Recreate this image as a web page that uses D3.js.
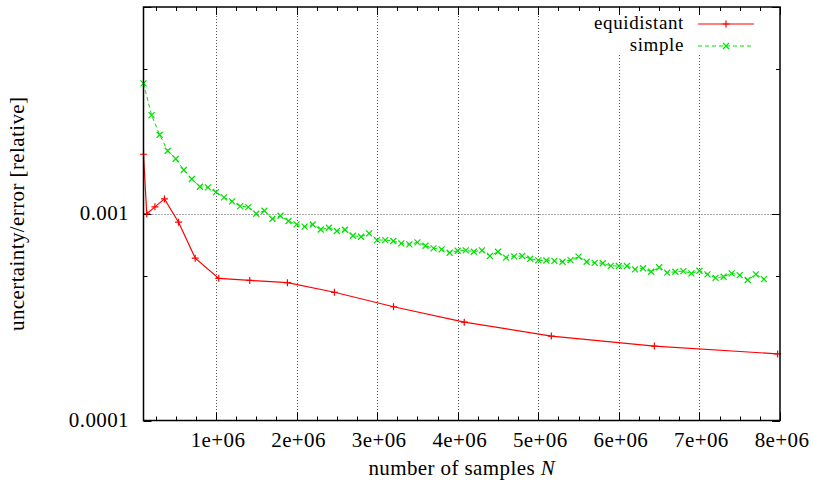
<!DOCTYPE html>
<html>
<head>
<meta charset="utf-8">
<script src="https://cdn.jsdelivr.net/npm/d3@7"></script>
<style>
  html, body { margin: 0; padding: 0; background: #fff; }
  svg { display: block; }
  text { font-family: "Liberation Serif", "Liberation Sans", sans-serif; font-size: 21px; letter-spacing: 0.4px; fill: #000; }
  text.key-label { font-size: 19px; letter-spacing: 0.6px; }
</style>
</head>
<body>
<svg id="chart" width="813" height="482"></svg>
<script>
// Sample counts and relative errors for the two sampling strategies
const equidistantN = [100000, 140000, 242000, 360000, 535000, 742000, 1034000, 1419000,
  1886000, 2470000, 3203000, 4081000, 5162000, 6441000, 7970000];
const equidistantErr = [0.00194, 0.00100, 0.00108, 0.00118, 0.000910, 0.000610, 0.000487, 0.000476,
  0.000464, 0.000417, 0.000355, 0.000299, 0.000256, 0.000229, 0.000210];

const simpleN = [100000, 200000, 300000, 400000, 500000, 600000, 700000, 800000, 900000, 1000000,
  1100000, 1200000, 1300000, 1400000, 1500000, 1600000, 1700000, 1800000, 1900000, 2000000,
  2100000, 2200000, 2300000, 2400000, 2500000, 2600000, 2700000, 2800000, 2900000, 3000000,
  3100000, 3200000, 3300000, 3400000, 3500000, 3600000, 3700000, 3800000, 3900000, 4000000,
  4100000, 4200000, 4300000, 4400000, 4500000, 4600000, 4700000, 4800000, 4900000, 5000000,
  5100000, 5200000, 5300000, 5400000, 5500000, 5600000, 5700000, 5800000, 5900000, 6000000,
  6100000, 6200000, 6300000, 6400000, 6500000, 6600000, 6700000, 6800000, 6900000, 7000000,
  7100000, 7200000, 7300000, 7400000, 7500000, 7600000, 7700000, 7800000];
const simpleErr = [0.004272, 0.003001, 0.002410, 0.002017, 0.001845, 0.001627, 0.001472, 0.001351, 0.001342, 0.001273,
  0.001200, 0.001148, 0.001089, 0.001077, 0.001000, 0.001034, 0.000946, 0.000978, 0.000922, 0.000889,
  0.000867, 0.000887, 0.000839, 0.000856, 0.000825, 0.000837, 0.000783, 0.000774, 0.000804, 0.000746,
  0.000746, 0.000738, 0.000719, 0.000711, 0.000727, 0.000700, 0.000680, 0.000673, 0.000648, 0.000662,
  0.000665, 0.000655, 0.000665, 0.000625, 0.000655, 0.000613, 0.000622, 0.000625, 0.000606, 0.000595,
  0.000594, 0.000592, 0.000586, 0.000597, 0.000620, 0.000586, 0.000579, 0.000576, 0.000560, 0.000559,
  0.000559, 0.000538, 0.000545, 0.000524, 0.000551, 0.000519, 0.000524, 0.000528, 0.000515, 0.000530,
  0.000509, 0.000490, 0.000496, 0.000515, 0.000505, 0.000478, 0.000509, 0.000483];

const xTickValues = [1e6, 2e6, 3e6, 4e6, 5e6, 6e6, 7e6, 8e6];
const xTickLabels = ["1e+06", "2e+06", "3e+06", "4e+06", "5e+06", "6e+06", "7e+06", "8e+06"];
const xMinorValues = [250000, 500000, 750000, 1250000, 1500000, 1750000, 2250000, 2500000, 2750000,
  3250000, 3500000, 3750000, 4250000, 4500000, 4750000, 5250000, 5500000, 5750000,
  6250000, 6500000, 6750000, 7250000, 7500000, 7750000];
const yTickValues = [0.0001, 0.001, 0.01];
const yTickLabels = ["0.0001", "0.001", ""];
const yMinorValues = [0.0005, 0.005];

const seriesNames = ["equidistant", "simple"];
const seriesColors = ["#ff0000", "#00e000"];

const svg = d3.select("#chart");
const plotLeft = 143.5, plotRight = 780, plotTop = 7, plotBottom = 420.5;

const x = d3.scaleLinear().domain([100000, 8000000]).range([plotLeft, plotRight]);
const y = d3.scaleLog().domain([0.0001, 0.01]).range([plotBottom, plotTop]);

// grid at major ticks inside the plot
const grid = svg.append("g").attr("stroke", "#555").attr("stroke-width", 1).attr("stroke-dasharray", "1,2");
xTickValues.filter(v => x(v) < plotRight - 1).forEach(v => {
  grid.append("line").attr("x1", Math.round(x(v)) + 0.5).attr("x2", Math.round(x(v)) + 0.5)
    .attr("y1", plotTop).attr("y2", plotBottom);
});
yTickValues.filter(v => y(v) > plotTop + 1 && y(v) < plotBottom - 1).forEach(v => {
  grid.append("line").attr("x1", plotLeft).attr("x2", plotRight)
    .attr("y1", Math.round(y(v)) + 0.5).attr("y2", Math.round(y(v)) + 0.5);
});

// opaque key background
svg.append("rect").attr("x", 578).attr("y", plotTop + 1).attr("width", 190).attr("height", 45).attr("fill", "#fff");

// tick marks on all four sides
const ticks = svg.append("g").attr("stroke", "#000").attr("stroke-width", 1);
xTickValues.forEach(v => {
  const px = Math.round(x(v)) + 0.5;
  ticks.append("line").attr("x1", px).attr("x2", px).attr("y1", plotBottom).attr("y2", plotBottom - 8);
  ticks.append("line").attr("x1", px).attr("x2", px).attr("y1", plotTop).attr("y2", plotTop + 8);
});
xMinorValues.forEach(v => {
  const px = Math.round(x(v)) + 0.5;
  ticks.append("line").attr("x1", px).attr("x2", px).attr("y1", plotBottom).attr("y2", plotBottom - 4);
  ticks.append("line").attr("x1", px).attr("x2", px).attr("y1", plotTop).attr("y2", plotTop + 4);
});
yTickValues.forEach(v => {
  const py = Math.round(y(v)) + 0.5;
  ticks.append("line").attr("x1", plotLeft).attr("x2", plotLeft + 8).attr("y1", py).attr("y2", py);
  ticks.append("line").attr("x1", plotRight).attr("x2", plotRight - 8).attr("y1", py).attr("y2", py);
});
yMinorValues.forEach(v => {
  const py = Math.round(y(v)) + 0.5;
  ticks.append("line").attr("x1", plotLeft).attr("x2", plotLeft + 4).attr("y1", py).attr("y2", py);
  ticks.append("line").attr("x1", plotRight).attr("x2", plotRight - 4).attr("y1", py).attr("y2", py);
});

// tick labels
xTickValues.forEach((v, i) => {
  svg.append("text").attr("x", x(v) + 2).attr("y", 447).attr("text-anchor", "middle").text(xTickLabels[i]);
});
yTickValues.forEach((v, i) => {
  if (!yTickLabels[i]) return;
  svg.append("text").attr("x", 129).attr("y", y(v) + 6).attr("text-anchor", "end").text(yTickLabels[i]);
});

// axis titles
const xTitle = svg.append("text").attr("x", (plotLeft + plotRight) / 2).attr("y", 475).attr("text-anchor", "middle");
xTitle.append("tspan").text("number of samples ");
xTitle.append("tspan").attr("font-style", "italic").text("N");
svg.append("text").attr("transform", `translate(24,${(plotTop + plotBottom) / 2}) rotate(-90)`)
  .attr("text-anchor", "middle").text("uncertainty/error [relative]");

// data lines
const line = d3.line().x(d => x(d[0])).y(d => y(d[1]));
const eqData = equidistantN.map((n, i) => [n, equidistantErr[i]]);
const simData = simpleN.map((n, i) => [n, simpleErr[i]]);

svg.append("path").datum(simData).attr("d", line).attr("fill", "none")
  .attr("stroke", seriesColors[1]).attr("stroke-width", 1).attr("stroke-dasharray", "4,3");
svg.append("path").datum(eqData).attr("d", line).attr("fill", "none")
  .attr("stroke", seriesColors[0]).attr("stroke-width", 1.2);

function plusMark(g, cx, cy, color) {
  g.append("path").attr("d", `M${cx - 3.5},${cy}H${cx + 3.5}M${cx},${cy - 3.5}V${cy + 3.5}`)
    .attr("stroke", color).attr("stroke-width", 1.2).attr("fill", "none");
}
function crossMark(g, cx, cy, color) {
  g.append("path").attr("d", `M${cx - 3},${cy - 3}L${cx + 3},${cy + 3}M${cx - 3},${cy + 3}L${cx + 3},${cy - 3}`)
    .attr("stroke", color).attr("stroke-width", 1.2).attr("fill", "none");
}
const marks = svg.append("g");
simData.forEach(d => crossMark(marks, x(d[0]), y(d[1]), seriesColors[1]));
eqData.forEach(d => plusMark(marks, x(d[0]), y(d[1]), seriesColors[0]));

// border
svg.append("rect").attr("x", plotLeft).attr("y", plotTop).attr("width", plotRight - plotLeft).attr("height", plotBottom - plotTop)
  .attr("fill", "none").attr("stroke", "#000").attr("stroke-width", 1.5);

// key
const key = svg.append("g");
const keyRows = [24, 46];
seriesNames.forEach((name, i) => {
  const ky = keyRows[i];
  key.append("text").attr("class", "key-label").attr("x", 684).attr("y", ky + 5)
    .attr("text-anchor", "end").text(name);
  key.append("line").attr("x1", 698).attr("x2", 754).attr("y1", ky).attr("y2", ky)
    .attr("stroke", seriesColors[i]).attr("stroke-width", i === 0 ? 1.2 : 1)
    .attr("stroke-dasharray", i === 0 ? null : "4,3");
  if (i === 0) plusMark(key, 726, ky, seriesColors[i]); else crossMark(key, 726, ky, seriesColors[i]);
});
</script>
</body>
</html>
